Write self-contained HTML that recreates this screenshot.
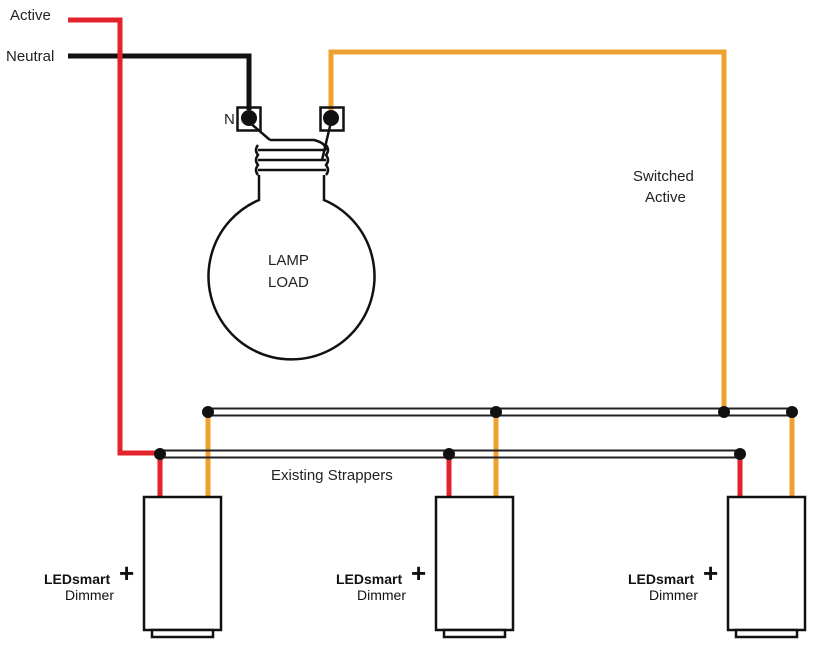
<!DOCTYPE html><html><head><style>body{margin:0;background:#fff}svg{display:block}</style></head><body>
<svg width="821" height="654" viewBox="0 0 821 654" font-family="Liberation Sans, sans-serif">
<g fill="none" stroke-linejoin="miter">
<path d="M68 56H249V110" stroke="#111" stroke-width="5"/>
<path d="M68 20H120V453H160" stroke="#e3232b" stroke-width="5"/>
<path d="M331 110V52H724V412" stroke="#f0a030" stroke-width="5"/>
<g stroke="#e3232b" stroke-width="5"><path d="M160 454V497M449 454V497M740 454V497"/></g>
<g stroke="#f0a030" stroke-width="5"><path d="M208 412V497M496 412V497M792 412V497"/></g>
<g stroke="#222" stroke-width="2"><path d="M208 408.5H792M208 415.5H792M160 450.5H740M160 457.5H740"/></g>
<g stroke="#111" stroke-width="2.5">
<rect x="237.5" y="107.5" width="23" height="23"/><rect x="320.5" y="107.5" width="23" height="23"/>
<path d="M249 122L270 140M331 122L322 160"/>
<path d="M270 140H314Q326 143 326 150"/>
<path d="M258 150H326M258 160H326M258 170H326"/>
<path d="M258 145Q254 150 258 155Q254 160 258 165Q254 170 258 175M326 145Q330 150 326 155Q330 160 326 165Q330 170 326 175"/>
<path d="M259 175V200A83 83 0 1 0 324 200V175"/>
</g>
<g stroke="#111" stroke-width="2.5" fill="#fff">
<rect x="144" y="497" width="77" height="133"/><rect x="152" y="630" width="61" height="7"/>
<rect x="436" y="497" width="77" height="133"/><rect x="444" y="630" width="61" height="7"/>
<rect x="728" y="497" width="77" height="133"/><rect x="736" y="630" width="61" height="7"/>
</g>
</g>
<g fill="#111"><circle cx="249" cy="118" r="8"/><circle cx="331" cy="118" r="8"/>
<circle cx="208" cy="412" r="6"/><circle cx="496" cy="412" r="6"/><circle cx="724" cy="412" r="6"/><circle cx="792" cy="412" r="6"/>
<circle cx="160" cy="454" r="6"/><circle cx="449" cy="454" r="6"/><circle cx="740" cy="454" r="6"/></g>
<g font-size="15" fill="#222">
<text x="10" y="20">Active</text><text x="6" y="61">Neutral</text><text x="224" y="124">N</text>
<text x="633" y="181">Switched</text><text x="645" y="202">Active</text>
<text x="268" y="265">LAMP</text><text x="268" y="287">LOAD</text>
<text x="271" y="480">Existing Strappers</text>
</g>
<g fill="#111">
<text x="44" y="584" font-size="14" font-weight="bold">LEDsmart</text><text x="119" y="582" font-size="26" font-weight="bold">+</text><text x="65" y="600" font-size="14">Dimmer</text>
<text x="336" y="584" font-size="14" font-weight="bold">LEDsmart</text><text x="411" y="582" font-size="26" font-weight="bold">+</text><text x="357" y="600" font-size="14">Dimmer</text>
<text x="628" y="584" font-size="14" font-weight="bold">LEDsmart</text><text x="703" y="582" font-size="26" font-weight="bold">+</text><text x="649" y="600" font-size="14">Dimmer</text>
</g>
</svg></body></html>
